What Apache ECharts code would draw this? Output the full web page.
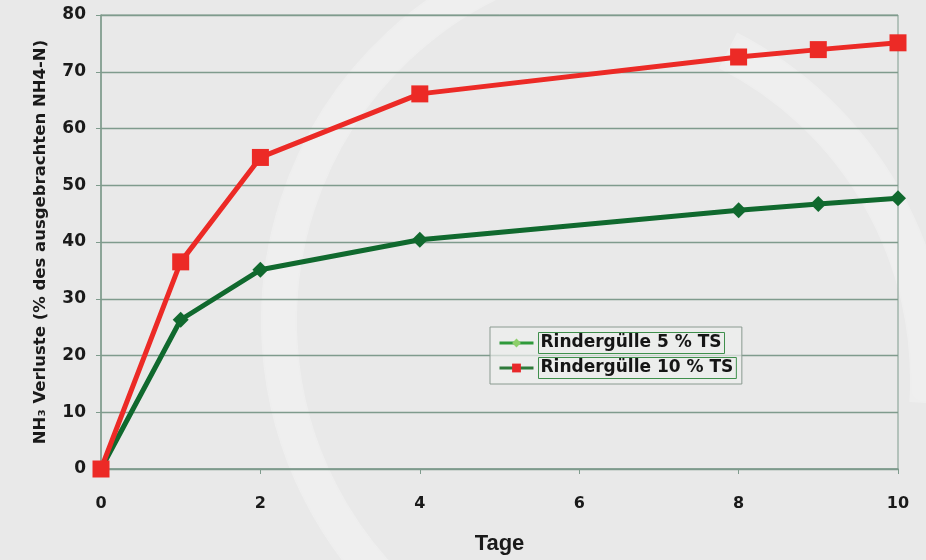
<!DOCTYPE html>
<html>
<head>
<meta charset="utf-8">
<script src="https://cdn.jsdelivr.net/npm/echarts@6/dist/echarts.min.js"></script>
<style>
  html, body { margin: 0; padding: 0; background: #e9e9e9; }
  #chart { width: 926px; height: 560px; }
</style>
</head>
<body>
<div id="chart"></div>
<script>
// Days after application
const days = [0, 1, 2, 4, 8, 9, 10];
// NH3 losses in % of applied NH4-N
const guelle5 = [0, 26.3, 35.1, 40.4, 45.6, 46.7, 47.7];
const guelle10 = [0, 36.5, 54.9, 66.1, 72.6, 73.9, 75.1];
const seriesNames = ['Rindergülle 5 % TS', 'Rindergülle 10 % TS'];
const xTicks = [0, 2, 4, 6, 8, 10];
const yTicks = [0, 10, 20, 30, 40, 50, 60, 70, 80];

const pairs = (xs, ys) => xs.map((x, i) => [x, ys[i]]);

const chart = echarts.init(document.getElementById('chart'));
const font = 'DejaVu Sans, Verdana, sans-serif';
const gridColor = '#7f9b8d';

chart.setOption({
  backgroundColor: '#e9e9e9',
  animation: false,
  // faint swirl logo in the background
  graphic: [
    {
      type: 'arc', silent: true, z: -1,
      shape: { cx: 655, cy: 321, r: 376, startAngle: Math.PI * 0.6, endAngle: Math.PI * 1.42 },
      style: { stroke: 'rgba(255,255,255,0.26)', lineWidth: 36, fill: null, shadowBlur: 14, shadowColor: 'rgba(255,255,255,0.3)' }
    },
    {
      type: 'arc', silent: true, z: -1,
      shape: { cx: 560, cy: 380, r: 370, startAngle: -Math.PI * 0.35, endAngle: Math.PI * 0.02 },
      style: { stroke: 'rgba(255,255,255,0.26)', lineWidth: 40, fill: null, shadowBlur: 14, shadowColor: 'rgba(255,255,255,0.3)' }
    }
  ],
  grid: {
    left: 101, right: 28, top: 15, bottom: 89,
    show: true, borderColor: gridColor, borderWidth: 1, backgroundColor: 'transparent'
  },
  legend: {
    orient: 'vertical',
    left: 490, top: 327,
    padding: [5, 5, 5, 8],
    itemGap: 3,
    itemWidth: 34, itemHeight: 11,
    backgroundColor: 'rgba(236,238,236,0.7)',
    borderColor: '#8a9a90', borderWidth: 1,
    textStyle: {
      fontFamily: font, fontWeight: 'bold', fontSize: 17, color: '#151515',
      borderColor: '#3f8f4c', borderWidth: 1, padding: [3, 3, 1, 2]
    },
    data: [
      { name: seriesNames[0],
        itemStyle: { color: '#8ccf6a' }, lineStyle: { color: '#2f9a3a', width: 3 } },
      { name: seriesNames[1],
        itemStyle: { color: '#e8282a' }, lineStyle: { color: '#2f7a3a', width: 3 } }
    ]
  },
  xAxis: {
    type: 'value', min: 0, max: 10, interval: 2,
    name: 'Tage', nameLocation: 'middle', nameGap: 64,
    nameTextStyle: { fontFamily: 'Liberation Sans, Arial, sans-serif', fontWeight: 'bold', fontSize: 22, color: '#1a1a1a' },
    axisLine: { lineStyle: { color: gridColor, width: 1.5 } },
    axisTick: { show: true, length: 5, lineStyle: { color: gridColor } },
    axisLabel: {
      fontFamily: font, fontWeight: 'bold', fontSize: 16, color: '#1a1a1a', margin: 27,
      formatter: v => xTicks.includes(v) ? String(v) : ''
    },
    splitLine: { show: false }
  },
  yAxis: {
    type: 'value', min: 0, max: 80, interval: 10,
    name: 'NH₃ Verluste (% des ausgebrachten NH4-N)',
    nameLocation: 'middle', nameGap: 52, nameRotate: 90,
    nameTextStyle: { fontFamily: font, fontWeight: 'bold', fontSize: 16.5, color: '#1a1a1a' },
    axisLine: { show: true, lineStyle: { color: gridColor, width: 1.5 } },
    axisTick: { show: true, length: 5, lineStyle: { color: gridColor } },
    axisLabel: {
      fontFamily: font, fontWeight: 'bold', fontSize: 17, color: '#1a1a1a', margin: 15,
      formatter: v => yTicks.includes(v) ? String(v) : ''
    },
    splitLine: { show: true, lineStyle: { color: gridColor, width: 1.3 } }
  },
  series: [
    {
      name: seriesNames[0], type: 'line',
      data: pairs(days, guelle5),
      symbol: 'diamond', symbolSize: 16,
      lineStyle: { color: '#10692e', width: 5 },
      itemStyle: { color: '#10692e' },
      z: 3
    },
    {
      name: seriesNames[1], type: 'line',
      data: pairs(days, guelle10),
      symbol: 'rect', symbolSize: 17,
      lineStyle: { color: '#ec2a26', width: 5 },
      itemStyle: { color: '#ec2a26' },
      z: 4
    }
  ]
});
</script>
</body>
</html>
